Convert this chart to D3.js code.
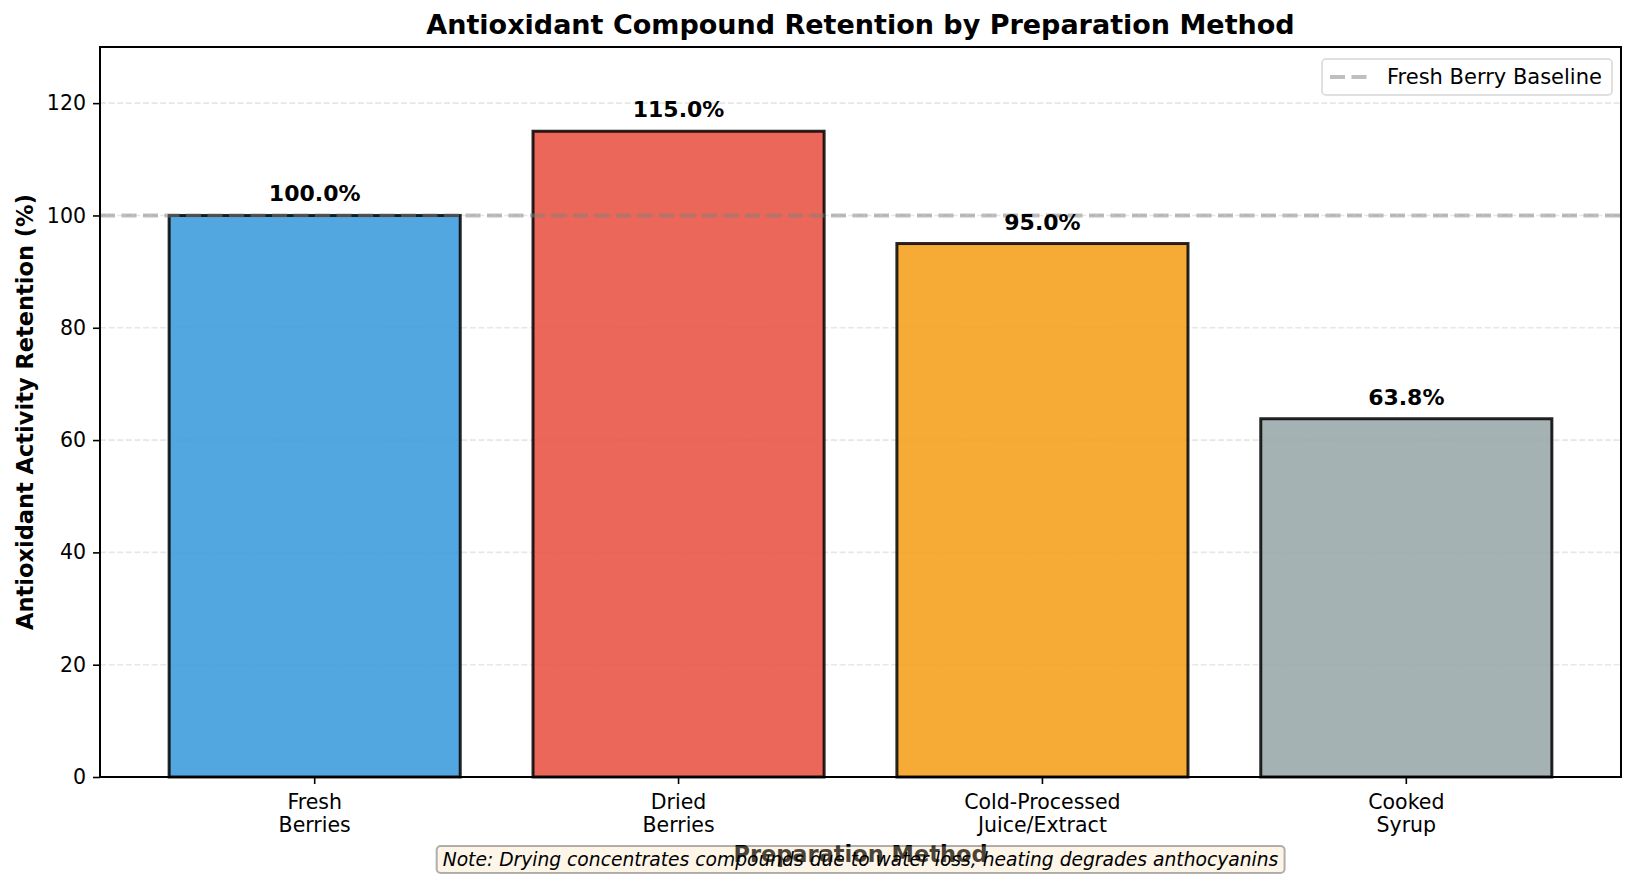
<!DOCTYPE html>
<html>
<head>
<meta charset="utf-8">
<script src="https://cdn.jsdelivr.net/npm/d3@7"></script>
<style>
  body { margin: 0; background: #fff; }
  svg text { font-family: "DejaVu Sans", sans-serif; }
</style>
</head>
<body>
<div id="chart"></div>
<script>
// chart data
const methods = [["Fresh", "Berries"], ["Dried", "Berries"], ["Cold-Processed", "Juice/Extract"], ["Cooked", "Syrup"]];
const retention = [100.0, 115.0, 95.0, 63.8];
const barColors = ["#3498db", "#e74c3c", "#f39c12", "#95a5a6"];
const yTicks = [0, 20, 40, 60, 80, 100, 120];
const baseline = 100;

window.onload = function() {
  const width = 1635, height = 884;
  const margin = {left: 100, right: 14, top: 47, bottom: 107};
  const x0 = margin.left, x1 = width - margin.right;
  const y0 = height - margin.bottom, y1 = margin.top;

  const svg = d3.select("#chart").append("svg")
    .attr("width", width).attr("height", height);

  // matplotlib style x: index positions with 0.05 margins
  const x = d3.scaleLinear().domain([-0.59, 3.59]).range([x0, x1]);
  const y = d3.scaleLinear().domain([0, 130]).range([y0, y1]);
  const bw = x(0.8) - x(0);

  // grid
  svg.append("g").selectAll("line").data(yTicks).join("line")
    .attr("x1", x0).attr("x2", x1)
    .attr("y1", d => y(d)).attr("y2", d => y(d))
    .attr("stroke", "#b0b0b0").attr("stroke-opacity", 0.3)
    .attr("stroke-width", 1.6).attr("stroke-dasharray", "6,2.6");

  // bars
  svg.append("g").selectAll("rect").data(retention).join("rect")
    .attr("x", (d, i) => x(i) - bw / 2)
    .attr("y", d => y(d))
    .attr("width", bw)
    .attr("height", d => y(0) - y(d))
    .attr("fill", (d, i) => barColors[i]).attr("fill-opacity", 0.85)
    .attr("stroke", "#000").attr("stroke-opacity", 0.85)
    .attr("stroke-width", 3);

  // baseline
  svg.append("line")
    .attr("x1", x0).attr("x2", x1)
    .attr("y1", y(baseline)).attr("y2", y(baseline))
    .attr("stroke", "#808080").attr("stroke-opacity", 0.5)
    .attr("stroke-width", 4).attr("stroke-dasharray", "15,6.5");

  // value labels
  svg.append("g").selectAll("text").data(retention).join("text")
    .attr("x", (d, i) => x(i))
    .attr("y", d => y(d) - 14)
    .attr("text-anchor", "middle")
    .attr("font-size", "22px").attr("font-weight", "bold")
    .text(d => d.toFixed(1) + "%");

  // y axis
  const yAxis = svg.append("g")
    .attr("transform", `translate(${x0},0)`)
    .call(d3.axisLeft(y).tickValues(yTicks).tickSize(7).tickPadding(7));
  yAxis.select(".domain").remove();
  yAxis.selectAll("line").attr("stroke", "#000").attr("stroke-width", 1.6);
  yAxis.selectAll("text").attr("font-size", "20.5px").attr("fill", "#000")
    .attr("font-family", "DejaVu Sans");

  // x axis ticks
  const xt = svg.append("g").selectAll("g").data(methods).join("g")
    .attr("transform", (d, i) => `translate(${x(i)},${y0})`);
  xt.append("line").attr("y1", 0).attr("y2", 7).attr("stroke", "#000").attr("stroke-width", 1.6);
  xt.append("text").attr("text-anchor", "middle").attr("font-size", "20.5px")
    .selectAll("tspan").data(d => d).join("tspan")
    .attr("x", 0).attr("y", (d, j) => 32 + j * 22.5).text(d => d);

  // frame
  svg.append("rect").attr("x", x0).attr("y", y1)
    .attr("width", x1 - x0).attr("height", y0 - y1)
    .attr("fill", "none").attr("stroke", "#000").attr("stroke-width", 2);

  // title & axis labels
  svg.append("text").attr("x", (x0 + x1) / 2).attr("y", 34)
    .attr("text-anchor", "middle").attr("font-size", "27px").attr("font-weight", "bold")
    .text("Antioxidant Compound Retention by Preparation Method");
  svg.append("text")
    .attr("transform", `translate(33,${(y0 + y1) / 2}) rotate(-90)`)
    .attr("text-anchor", "middle").attr("font-size", "22.5px").attr("font-weight", "bold")
    .text("Antioxidant Activity Retention (%)");
  svg.append("text").attr("x", (x0 + x1) / 2).attr("y", 862)
    .attr("text-anchor", "middle").attr("font-size", "22.5px").attr("font-weight", "bold")
    .text("Preparation Method");

  // legend
  const lg = svg.append("g");
  lg.append("rect").attr("x", 1322).attr("y", 59).attr("width", 290).attr("height", 36)
    .attr("rx", 4).attr("fill", "#fff").attr("fill-opacity", 0.8)
    .attr("stroke", "#d6d6d6").attr("stroke-width", 1.5);
  lg.append("line").attr("x1", 1330).attr("x2", 1370).attr("y1", 77).attr("y2", 77)
    .attr("stroke", "#808080").attr("stroke-opacity", 0.5)
    .attr("stroke-width", 4).attr("stroke-dasharray", "15,6.5");
  lg.append("text").attr("x", 1387).attr("y", 84).attr("font-size", "21px")
    .text("Fresh Berry Baseline");

  // note box (semi-transparent, drawn over x label)
  const note = "Note: Drying concentrates compounds due to water loss, heating degrades anthocyanins";
  const nt = svg.append("text").attr("x", (x0 + x1) / 2).attr("y", 866)
    .attr("text-anchor", "middle").attr("font-size", "18.7px").attr("font-style", "italic")
    .text(note);
  const bb = nt.node().getBBox();
  svg.insert("rect", () => nt.node())
    .attr("x", bb.x - 6).attr("y", bb.y - 3)
    .attr("width", bb.width + 12).attr("height", bb.height + 6)
    .attr("rx", 4).attr("fill", "#f5deb3").attr("fill-opacity", 0.3)
    .attr("stroke", "#000").attr("stroke-opacity", 0.3).attr("stroke-width", 2);
};
</script>
</body>
</html>
